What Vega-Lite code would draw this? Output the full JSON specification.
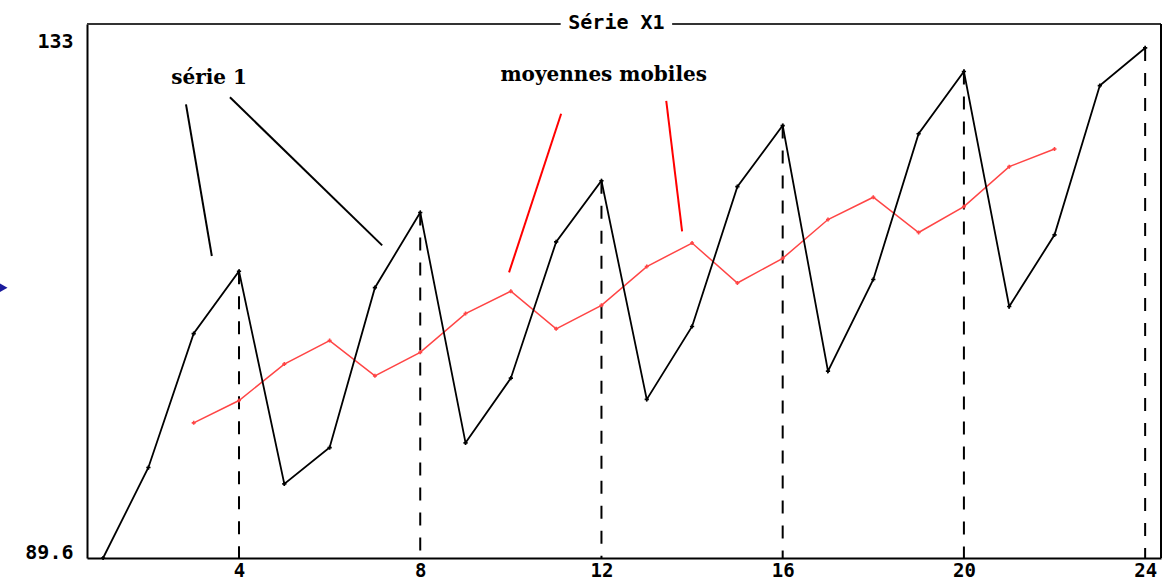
{
  "$schema": "https://vega.github.io/schema/vega-lite/v6.json",
  "width": 1074,
  "height": 534,
  "autosize": "none",
  "padding": {"left": 87, "top": 24, "right": 10, "bottom": 22},
  "background": "white",
  "config": {
    "view": {"stroke": null},
    "axis": {
      "grid": false,
      "ticks": false,
      "domainColor": "black",
      "domainWidth": 2,
      "labelFont": "DejaVu Sans Mono",
      "labelFontWeight": "bold",
      "labelFontSize": 20,
      "labelColor": "black",
      "title": null
    }
  },
  "datasets": {
    "x1": [
      {"t": 1, "v": 89.6}, {"t": 2, "v": 97.3}, {"t": 3, "v": 108.7}, {"t": 4, "v": 114.0},
      {"t": 5, "v": 95.9}, {"t": 6, "v": 99.0}, {"t": 7, "v": 112.6}, {"t": 8, "v": 119.0},
      {"t": 9, "v": 99.4}, {"t": 10, "v": 104.9}, {"t": 11, "v": 116.5}, {"t": 12, "v": 121.7},
      {"t": 13, "v": 103.1}, {"t": 14, "v": 109.3}, {"t": 15, "v": 121.2}, {"t": 16, "v": 126.4},
      {"t": 17, "v": 105.5}, {"t": 18, "v": 113.3}, {"t": 19, "v": 125.7}, {"t": 20, "v": 131.0},
      {"t": 21, "v": 111.0}, {"t": 22, "v": 117.1}, {"t": 23, "v": 129.8}, {"t": 24, "v": 133.0}
    ],
    "mm": [
      {"t": 3, "v": 101.1}, {"t": 4, "v": 103.0}, {"t": 5, "v": 106.1}, {"t": 6, "v": 108.1},
      {"t": 7, "v": 105.1}, {"t": 8, "v": 107.1}, {"t": 9, "v": 110.4}, {"t": 10, "v": 112.3},
      {"t": 11, "v": 109.1}, {"t": 12, "v": 111.1}, {"t": 13, "v": 114.4}, {"t": 14, "v": 116.4},
      {"t": 15, "v": 113.0}, {"t": 16, "v": 115.1}, {"t": 17, "v": 118.4}, {"t": 18, "v": 120.3},
      {"t": 19, "v": 117.3}, {"t": 20, "v": 119.5}, {"t": 21, "v": 122.9}, {"t": 22, "v": 124.4}
    ],
    "ann": [
      {"k": "série 1", "xa": 2.83, "ya": 128.2, "xb": 3.40, "yb": 115.3},
      {"k": "série 1", "xa": 3.80, "ya": 128.8, "xb": 7.16, "yb": 116.2},
      {"k": "moyennes mobiles", "xa": 11.11, "ya": 127.4, "xb": 9.96, "yb": 113.9},
      {"k": "moyennes mobiles", "xa": 13.43, "ya": 128.5, "xb": 13.78, "yb": 117.4}
    ],
    "labels": [
      {"k": "série 1", "lx": 3.34, "ly": 129.93},
      {"k": "moyennes mobiles", "lx": 12.05, "ly": 130.19}
    ]
  },
  "layer": [
    {
      "data": {"name": "x1"},
      "transform": [{"filter": "datum.t % 4 == 0"}],
      "mark": {"type": "rule", "strokeDash": [13, 12], "strokeWidth": 2, "color": "black"},
      "encoding": {
        "x": {
          "field": "t", "type": "quantitative",
          "scale": {"domain": [0.645, 24.35], "nice": false, "zero": false},
          "axis": {"values": [4, 8, 12, 16, 20, 24], "format": "d", "labelPadding": 22, "labelFlush": false, "labelBaseline": "bottom", "labelFontSize": 19}
        },
        "y": {
          "field": "v", "type": "quantitative",
          "scale": {"domain": [89.6, 135.04], "nice": false, "zero": false},
          "axis": {"values": [89.6, 133], "format": ".1~f", "labelPadding": 14, "labelBaseline": "alphabetic"}
        },
        "y2": {"datum": 89.6}
      }
    },
    {
      "data": {"name": "mm"},
      "mark": {"type": "line", "color": "#ff4545", "strokeWidth": 1.5, "point": {"shape": "cross", "size": 16, "color": "#ff4545", "filled": true}},
      "encoding": {
        "x": {"field": "t", "type": "quantitative"},
        "y": {"field": "v", "type": "quantitative"}
      }
    },
    {
      "data": {"name": "x1"},
      "mark": {"type": "line", "color": "black", "strokeWidth": 1.8, "point": {"shape": "cross", "size": 18, "color": "black", "filled": true}},
      "encoding": {
        "x": {"field": "t", "type": "quantitative"},
        "y": {"field": "v", "type": "quantitative"}
      }
    },
    {
      "data": {"name": "ann"},
      "mark": {"type": "rule", "strokeWidth": 2},
      "encoding": {
        "x": {"field": "xa", "type": "quantitative"},
        "y": {"field": "ya", "type": "quantitative"},
        "x2": {"field": "xb"},
        "y2": {"field": "yb"},
        "color": {"field": "k", "type": "nominal", "scale": {"domain": ["série 1", "moyennes mobiles"], "range": ["#000000", "#ff0000"]}, "legend": null}
      }
    },
    {
      "data": {"name": "labels"},
      "mark": {"type": "text", "font": "DejaVu Serif", "fontWeight": "bold", "fontSize": 20, "color": "black", "align": "center", "baseline": "alphabetic"},
      "encoding": {
        "x": {"field": "lx", "type": "quantitative"},
        "y": {"field": "ly", "type": "quantitative"},
        "text": {"field": "k"}
      }
    },
    {
      "data": {"values": [{}]},
      "mark": {"type": "rule", "color": "#333333", "strokeWidth": 2},
      "encoding": {"x": {"datum": 0.645}, "x2": {"datum": 11.1}, "y": {"datum": 135.04}}
    },
    {
      "data": {"values": [{}]},
      "mark": {"type": "rule", "color": "#333333", "strokeWidth": 2},
      "encoding": {"x": {"datum": 13.56}, "x2": {"datum": 24.35}, "y": {"datum": 135.04}}
    },
    {
      "data": {"values": [{}]},
      "mark": {"type": "rule", "color": "black", "strokeWidth": 2},
      "encoding": {"x": {"datum": 24.35}, "y": {"datum": 89.6}, "y2": {"datum": 135.04}}
    },
    {
      "data": {"values": [{"title": "Série X1"}]},
      "mark": {"type": "text", "font": "DejaVu Sans Mono", "fontWeight": "bold", "fontSize": 20, "color": "black", "align": "center", "baseline": "middle", "dy": -1},
      "encoding": {"x": {"datum": 12.33}, "y": {"datum": 135.04}, "text": {"field": "title"}}
    },
    {
      "data": {"values": [{}]},
      "mark": {"type": "point", "shape": "triangle-right", "size": 110, "filled": true, "color": "#1a1a9c", "opacity": 1},
      "encoding": {"x": {"datum": -1.21}, "y": {"datum": 112.6}}
    }
  ]
}
